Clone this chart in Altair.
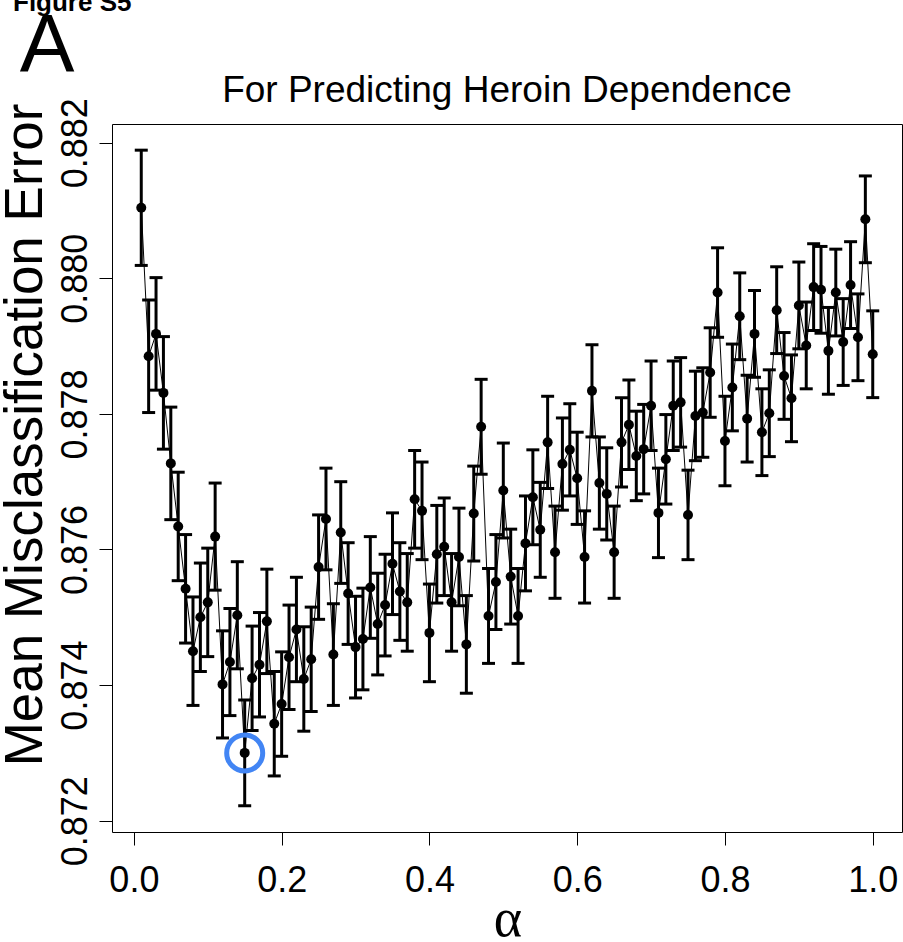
import altair as alt
import pandas as pd

alpha = [i / 100 for i in range(1, 101)]

mean_err = [
    0.88104, 0.87885, 0.87918, 0.87831, 0.87727, 0.87634, 0.87542, 0.87450, 0.87500, 0.87522,
    0.87619, 0.87401, 0.87434, 0.87503, 0.87300, 0.87410, 0.87430, 0.87494, 0.87343, 0.87372,
    0.87441, 0.87482, 0.87409, 0.87438, 0.87574, 0.87645, 0.87445, 0.87625, 0.87535, 0.87456,
    0.87468, 0.87544, 0.87490, 0.87518, 0.87579, 0.87538, 0.87522, 0.87674, 0.87657, 0.87477,
    0.87593, 0.87604, 0.87522, 0.87589, 0.87460, 0.87653, 0.87781, 0.87502, 0.87552, 0.87687,
    0.87560, 0.87502, 0.87609, 0.87677, 0.87629, 0.87758, 0.87596, 0.87726, 0.87747, 0.87705,
    0.87589, 0.87834, 0.87698, 0.87682, 0.87596, 0.87758, 0.87784, 0.87738, 0.87748, 0.87812,
    0.87654, 0.87733, 0.87812, 0.87817, 0.87651, 0.87797, 0.87802, 0.87861, 0.87979, 0.87760,
    0.87839, 0.87944, 0.87793, 0.87918, 0.87773, 0.87801, 0.87953, 0.87856, 0.87823, 0.87960,
    0.87901, 0.87987, 0.87983, 0.87893, 0.87979, 0.87906, 0.87990, 0.87913, 0.88087, 0.87888,
]

std_err = [
    0.00085, 0.00083, 0.00083, 0.00083, 0.00083, 0.00080, 0.00080, 0.00080, 0.00080, 0.00080,
    0.00079, 0.00079, 0.00079, 0.00079, 0.00078, 0.00077, 0.00077, 0.00077, 0.00077, 0.00077,
    0.00077, 0.00077, 0.00077, 0.00077, 0.00077, 0.00075, 0.00075, 0.00075, 0.00075, 0.00075,
    0.00075, 0.00075, 0.00075, 0.00075, 0.00075, 0.00072, 0.00072, 0.00072, 0.00072, 0.00072,
    0.00072, 0.00072, 0.00072, 0.00072, 0.00072, 0.00070, 0.00070, 0.00070, 0.00070, 0.00070,
    0.00070, 0.00070, 0.00070, 0.00070, 0.00070, 0.00068, 0.00068, 0.00068, 0.00068, 0.00068,
    0.00068, 0.00068, 0.00068, 0.00068, 0.00068, 0.00066, 0.00066, 0.00066, 0.00066, 0.00066,
    0.00066, 0.00066, 0.00066, 0.00066, 0.00066, 0.00066, 0.00066, 0.00066, 0.00066, 0.00066,
    0.00064, 0.00064, 0.00064, 0.00064, 0.00064, 0.00064, 0.00064, 0.00064, 0.00064, 0.00064,
    0.00064, 0.00064, 0.00064, 0.00064, 0.00064, 0.00064, 0.00064, 0.00064, 0.00064, 0.00064,
]

best_alpha = [0.15]
best_err = [0.87300]

x_ticks = [0.0, 0.2, 0.4, 0.6, 0.8, 1.0]
y_ticks = [0.872, 0.874, 0.876, 0.878, 0.880, 0.882]

title_text = "For Predicting Heroin Dependence"
y_title_text = "Mean Misclassification Error"
x_title_text = "α"
panel_text = "A"
figure_text = "Figure S5"

df = pd.DataFrame({"alpha": alpha, "err": mean_err, "se": std_err})
df["lo"] = df["err"] - df["se"]
df["hi"] = df["err"] + df["se"]
best = pd.DataFrame({"alpha": best_alpha, "err": best_err})

FONT = "Liberation Sans"

x_scale = alt.Scale(domain=[-0.0296, 1.0396], nice=False, zero=False)
y_scale = alt.Scale(domain=[0.871833, 0.882276], nice=False, zero=False)

x_axis = alt.Axis(values=x_ticks, format=".1f", title=None, grid=False, domain=False,
                  tickSize=13, tickWidth=1, tickColor="black", labelFontSize=36,
                  labelFont=FONT, labelColor="black", labelBaseline="alphabetic",
                  labelPadding=46, labelFlush=False, labelOverlap=False)
y_axis = alt.Axis(values=y_ticks, format=".3f", title=None, grid=False, domain=False,
                  tickSize=13, tickWidth=1, tickColor="black", labelFontSize=36,
                  labelFont=FONT, labelColor="black", labelAngle=-90,
                  labelAlign="center", labelBaseline="alphabetic",
                  labelPadding=13, labelFlush=False, labelOverlap=False)


def X(field):
    return alt.X(f"{field}:Q", scale=x_scale, axis=x_axis)


def Y(field):
    return alt.Y(f"{field}:Q", scale=y_scale, axis=y_axis)


base = alt.Chart(df)

line = base.mark_line(color="black", strokeWidth=1).encode(x=X("alpha"), y=Y("err"))
bars = base.mark_rule(color="black", strokeWidth=3).encode(x=X("alpha"), y=Y("lo"), y2="hi:Q")
cap_lo = base.mark_tick(color="black", orient="horizontal", size=13, thickness=3, opacity=1).encode(
    x=X("alpha"), y=Y("lo"))
cap_hi = base.mark_tick(color="black", orient="horizontal", size=13, thickness=3, opacity=1).encode(
    x=X("alpha"), y=Y("hi"))
pts = base.mark_circle(color="black", size=100, opacity=1).encode(x=X("alpha"), y=Y("err"))
ring = alt.Chart(best).mark_point(shape="circle", filled=False, size=1296, strokeWidth=5,
                                  color="#4285F4", opacity=1).encode(x=X("alpha"), y=Y("err"))


def label(text, x, y, size, angle=0, align="center", font=FONT, weight="normal"):
    kw = dict(fontSize=size, font=font, fontWeight=weight, align=align,
              baseline="alphabetic", color="black")
    if angle:
        kw["angle"] = angle
    return alt.Chart(pd.DataFrame({"t": [text]})).mark_text(**kw).encode(
        text="t:N", x=alt.value(x), y=alt.value(y))


title = label(title_text, 395, -22, 37)
ytitle = label(y_title_text, -70, 311, 53, angle=270)
xtitle = label(x_title_text, 396, 812, 54, font="Liberation Serif")
panel = label(panel_text, -65, -53, 82)
fig = label(figure_text, -99, -113, 26, align="left", weight="bold")

chart = alt.layer(bars, cap_lo, cap_hi, line, pts, ring, title, ytitle, xtitle, panel, fig).properties(
    width=790, height=708,
    autosize=alt.AutoSizeParams(type="none"),
    padding={"left": 112, "top": 124, "right": 1, "bottom": 110},
    background="white",
).configure_view(stroke="black", strokeWidth=1)

chart.save("out.html", embed_options={"renderer": "svg", "actions": False})
